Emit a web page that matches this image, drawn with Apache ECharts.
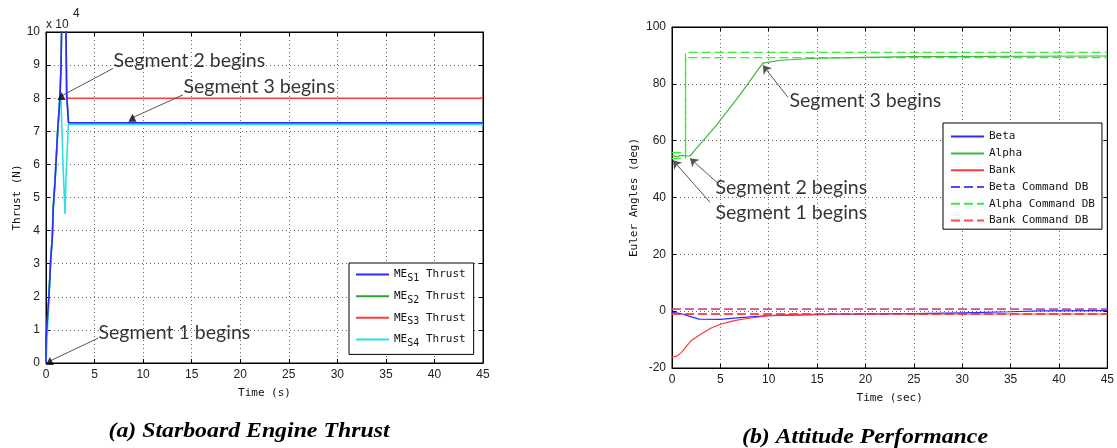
<!DOCTYPE html>
<html>
<head>
<meta charset="utf-8">
<script src="https://cdn.jsdelivr.net/npm/echarts/dist/echarts.min.js"></script>
<style>
	html, body { margin: 0; background: #fff; }
	#chart { width: 1117px; height: 448px; }
</style>
</head>
<body>
<div id="chart"></div>
<script>
	// (a) thrust, [time s, thrust N]
	var meS1 = [[0, 0], [0, 7000], [0.3, 20000], [0.48, 31000], [0.65, 38000], [0.75, 47000], [0.93, 55000], [1.2, 70000], [1.44, 80500], [1.55, 90000], [1.62, 103000], [2.05, 103000], [2.13, 81000], [2.28, 81000], [2.32, 72600], [45, 72600]]
	var meS2 = [[0, 0], [0, 7000], [0.3, 20000], [0.48, 31000], [0.65, 38000], [0.75, 47000], [0.93, 55000], [1.2, 70000], [1.44, 80500], [1.55, 90000], [1.62, 103000], [2.05, 103000], [2.13, 81000], [2.28, 81000], [2.32, 72600], [45, 72600]]
	var meS3 = [[2.0, 80000], [45, 80000]]
	var meS4 = [[0, 0], [0.3, 20000], [0.48, 31000], [0.65, 38000], [0.75, 47000], [0.93, 55000], [1.2, 70000], [1.44, 80500], [1.55, 79000], [1.75, 60000], [1.96, 45000], [2.05, 55000], [2.3, 72100], [45, 72100]]

	// (b) attitude, [time sec, deg]
	var beta = [[0, -0.3], [1, -0.9], [2, -2.0], [2.8, -2.8], [5, -2.9], [7, -2.3], [10, -1.6], [15, -1.2], [20, -1.0], [25, -0.9], [30, -0.6], [35, -0.2], [38, 0.1], [45, 0.2]]
	var alpha = [[0, 54.8], [0.5, 54.4], [1.0, 54.8], [1.5, 54.6], [1.85, 54.6], [2.5, 57.2], [4.6, 65.5], [7.0, 76.0], [8.75, 84.3], [9.4, 87.3], [11.2, 88.3], [15, 89.0], [20, 89.3], [25, 89.6], [45, 89.8]]
	var bank = [[0, -16.2], [0.5, -15.8], [1.0, -14.5], [1.5, -12.3], [2.0, -10.3], [3, -8.0], [4, -6.0], [5, -4.6], [6, -3.7], [7, -3.0], [8, -2.5], [10, -1.6], [13, -1.1], [20, -1.0], [45, -1.0]]
	var betaCmdHi = [[0, 0.7], [45, 0.7]]
	var betaCmdLo = [[0, -1.0], [45, -1.0]]
	var alphaCmdHi = [[0, 55.8], [1.4, 55.8], [1.4, 91.1], [45, 91.1]]
	var alphaCmdLo = [[0, 53.8], [1.4, 53.8], [1.4, 89.2], [45, 89.2]]
	var bankCmdHi = [[0, 0.7], [45, 0.7]]
	var bankCmdLo = [[0, -1.1], [45, -1.1]]

	// annotations: text, text anchor, arrow start, target point
	var thrustNotes = [
		{ text: 'Segment 1 begins', at: [5.36, 9000], from: [5.36, 7500], to: [0.4, 600] },
		{ text: 'Segment 2 begins', at: [6.9, 91200], from: [6.9, 89000], to: [1.6, 80700] },
		{ text: 'Segment 3 begins', at: [14.1, 83400], from: [14.1, 81000], to: [8.9, 74100] }
	]
	var attitudeNotes = [
		{ text: 'Segment 3 begins', at: [12.1, 74.2], from: [12.0, 75.2], to: [9.4, 86.5] },
		{ text: 'Segment 2 begins', at: [4.44, 43.6], from: [4.65, 45.3], to: [1.86, 53.8] },
		{ text: 'Segment 1 begins', at: [4.44, 34.8], from: [3.93, 38.3], to: [0.1, 53.1] }
	]

	var tickFont = { fontFamily: 'Liberation Sans', fontSize: 12, color: '#222' }
	var monoFont = { fontFamily: 'DejaVu Sans Mono', fontSize: 11, color: '#111' }

	function axisBase(pos, grid, min, max, interval, labels) {
		return {
			type: 'value', position: pos, gridIndex: grid, min: min, max: max, interval: interval,
			axisLine: { show: true, onZero: false, lineStyle: { color: '#000', width: 1 } },
			axisTick: { show: true, inside: true, length: 4, lineStyle: { color: '#000' } },
			axisLabel: Object.assign({ show: labels, margin: 6 }, tickFont),
			splitLine: { show: labels, lineStyle: { color: '#666', type: [1, 3], width: 1 } }
		}
	}

	function ln(name, data, color, xi, width, dash, z) {
		return {
			type: 'line', name: name, data: data, xAxisIndex: xi, yAxisIndex: xi,
			symbol: 'none', animation: false, z: z || 2,
			lineStyle: { color: color, width: width, type: dash || 'solid' },
			itemStyle: { color: color }
		}
	}

	function notes(list, xi, arrow) {
		return [{
			type: 'scatter', xAxisIndex: xi, yAxisIndex: xi, symbolSize: 1, animation: false, z: 10,
			itemStyle: { color: 'rgba(0,0,0,0)' },
			label: { show: true, position: 'right', distance: 0, formatter: '{b}', fontFamily: 'Lato', fontSize: 19.5, color: '#000' },
			data: list.map(function (n) { return { name: n.text, value: n.at } })
		}, {
			type: 'lines', coordinateSystem: 'cartesian2d', xAxisIndex: xi, yAxisIndex: xi, animation: false, z: 10,
			symbol: arrow ? ['none', 'arrow'] : ['none', 'none'], symbolSize: 8,
			lineStyle: { color: '#555', width: 1, opacity: 1 },
			data: list.map(function (n) { return { coords: [n.from, n.to] } })
		}].concat(arrow ? [] : [{
			type: 'scatter', xAxisIndex: xi, yAxisIndex: xi, symbol: 'triangle', symbolSize: 8, animation: false, z: 11,
			itemStyle: { color: '#000' },
			data: list.map(function (n) { return n.to })
		}])
	}

	var subs = { 'ME_S1 Thrust': 'S1', 'ME_S2 Thrust': 'S2', 'ME_S3 Thrust': 'S3', 'ME_S4 Thrust': 'S4' }

	var option = {
		backgroundColor: '#fff',
		animation: false,
		grid: [
			{ left: 46, top: 32, width: 437, height: 331, show: true, borderColor: '#000', borderWidth: 1, backgroundColor: '#fff' },
			{ left: 672, top: 27, width: 436, height: 341, show: true, borderColor: '#000', borderWidth: 1, backgroundColor: '#fff' }
		],
		xAxis: [
			Object.assign(axisBase('bottom', 0, 0, 45, 5, true), { name: 'Time (s)', nameLocation: 'middle', nameGap: 25, nameTextStyle: monoFont }),
			Object.assign(axisBase('bottom', 1, 0, 45, 5, true), { name: 'Time (sec)', nameLocation: 'middle', nameGap: 25, nameTextStyle: monoFont }),
			axisBase('top', 0, 0, 45, 5, false),
			axisBase('top', 1, 0, 45, 5, false)
		],
		yAxis: [
			Object.assign(axisBase('left', 0, 0, 100000, 10000, true), {
				name: 'Thrust (N)', nameLocation: 'middle', nameGap: 23, nameRotate: 90, nameTextStyle: monoFont,
				axisLabel: Object.assign({ margin: 6, formatter: function (v) { return v / 10000 } }, tickFont)
			}),
			Object.assign(axisBase('left', 1, -20, 100, 20, true), {
				name: 'Euler Angles (deg)', nameLocation: 'middle', nameGap: 32, nameRotate: 90, nameTextStyle: monoFont
			}),
			axisBase('right', 0, 0, 100000, 10000, false),
			axisBase('right', 1, -20, 100, 20, false)
		],
		legend: [{
			left: 349, top: 263, orient: 'vertical', itemWidth: 33, itemHeight: 14, itemGap: 7,
			padding: [6, 8, 6, 6], borderColor: '#000', borderWidth: 1, backgroundColor: '#fff',
			itemStyle: { opacity: 0 },
			data: ['ME_S1 Thrust', 'ME_S2 Thrust', 'ME_S3 Thrust', 'ME_S4 Thrust'],
			formatter: function (name) { return '{m|ME}{s|' + subs[name] + '}{m| Thrust}' },
			textStyle: {
				rich: {
					m: { fontFamily: 'DejaVu Sans Mono', fontSize: 11, color: '#111' },
					s: { fontFamily: 'DejaVu Sans Mono', fontSize: 10, color: '#111', padding: [8, 0, 0, 0] }
				}
			}
		}, {
			left: 943, top: 123, orient: 'vertical', itemWidth: 33, itemHeight: 14, itemGap: 5.6,
			padding: [8, 7, 3, 7], borderColor: '#000', borderWidth: 1, backgroundColor: '#fff',
			itemStyle: { opacity: 0 },
			data: ['Beta', 'Alpha', 'Bank', 'Beta Command DB', 'Alpha Command DB', 'Bank Command DB'],
			textStyle: monoFont
		}],
		graphic: [
			{ type: 'text', x: 46, y: 25, style: { text: 'x 10', font: '12px "Liberation Sans"', fill: '#222', textVerticalAlign: 'middle' } },
			{ type: 'text', x: 73, y: 14, style: { text: '4', font: '12px "Liberation Sans"', fill: '#222', textVerticalAlign: 'middle' } },
			{ type: 'text', x: 249, y: 432, scaleX: 1.19, style: { text: '(a) Starboard Engine Thrust', font: 'italic bold 20px "Liberation Serif"', fill: '#000', textAlign: 'center', textVerticalAlign: 'middle' } },
			{ type: 'text', x: 865, y: 438, scaleX: 1.19, style: { text: '(b) Attitude Performance', font: 'italic bold 20px "Liberation Serif"', fill: '#000', textAlign: 'center', textVerticalAlign: 'middle' } }
		],
		series: [
			ln('ME_S1 Thrust', meS1, '#2b2bff', 0, 1.6, null, 5),
			ln('ME_S2 Thrust', meS2, '#33a033', 0, 1.6, null, 2),
			ln('ME_S3 Thrust', meS3, '#ff3b3b', 0, 1.6, null, 3),
			ln('ME_S4 Thrust', meS4, '#2fe0e0', 0, 1.6, null, 4),

			ln('Alpha Command DB', alphaCmdHi, '#33ee33', 1, 1.3, [9, 4], 2),
			ln('Alpha Command DB', alphaCmdLo, '#33ee33', 1, 1.3, [9, 4], 2),
			ln('Beta Command DB', betaCmdHi, '#4b4bff', 1, 1.3, [9, 4], 2),
			ln('Beta Command DB', betaCmdLo, '#4b4bff', 1, 1.3, [9, 4], 2),
			ln('Bank Command DB', bankCmdHi, '#ff4b4b', 1, 1.3, [9, 4], 3),
			ln('Bank Command DB', bankCmdLo, '#ff4b4b', 1, 1.3, [9, 4], 3),
			ln('Beta', beta, '#2b2bff', 1, 1.2, null, 4),
			ln('Alpha', alpha, '#3cb83c', 1, 1.2, null, 4),
			ln('Bank', bank, '#ff3b3b', 1, 1.2, null, 4)
		].concat(notes(thrustNotes, 0, false), notes(attitudeNotes, 1, true))
	}

	var myChart = echarts.init(document.getElementById('chart'))
	myChart.setOption(option)
</script>
</body>
</html>
